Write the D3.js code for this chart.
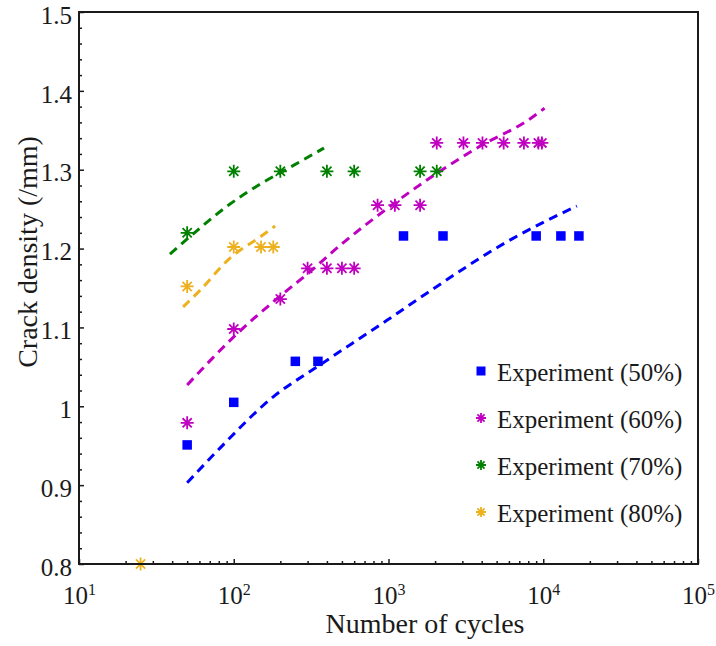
<!DOCTYPE html>
<html>
<head>
<meta charset="utf-8">
<script src="https://cdn.jsdelivr.net/npm/d3@7"></script>
<style>
  html, body { margin: 0; padding: 0; background: #fff; }
  svg text { font-family: "Liberation Serif", "Times New Roman", serif; fill: #1a1a1a; }
</style>
</head>
<body>
<svg id="chart" width="716" height="646"></svg>
<script>
// Experimental crack density vs. number of cycles at four stress levels
const cycles50 = [50, 100, 250, 350, 1250, 2250, 9000, 13000, 17000];
const density50 = [0.951, 1.005, 1.057, 1.057, 1.216, 1.216, 1.216, 1.216, 1.216];

const cycles60 = [50, 100, 200, 300, 400, 500, 600, 850, 1100, 1600, 2050, 3050, 4050, 5550, 7500, 9300, 9800];
const density60 = [0.979, 1.098, 1.136, 1.175, 1.175, 1.175, 1.175, 1.255, 1.255, 1.255, 1.334, 1.334, 1.334, 1.334, 1.334, 1.334, 1.334];

const cycles70 = [50, 100, 200, 400, 600, 1600, 2050];
const density70 = [1.220, 1.298, 1.298, 1.298, 1.298, 1.298, 1.298];

const cycles80 = [25, 50, 100, 150, 180];
const density80 = [0.800, 1.152, 1.202, 1.202, 1.202];

// Predicted (model) curves
const modelCycles50 = [50, 81.5, 180, 345, 977, 1528, 6380, 16500];
const modelDensity50 = [0.903, 0.947, 1.012, 1.050, 1.109, 1.135, 1.213, 1.254];

const modelCycles60 = [50, 100, 200, 300, 500, 1000, 2000, 4000, 8000, 10200];
const modelDensity60 = [1.027, 1.088, 1.140, 1.168, 1.206, 1.252, 1.294, 1.331, 1.363, 1.378];

const modelCycles70 = [38.7, 60.5, 94.6, 152, 231, 383];
const modelDensity70 = [1.193, 1.226, 1.2565, 1.283, 1.303, 1.3275];

const modelCycles80 = [47, 60.5, 94.6, 148, 185];
const modelDensity80 = [1.126, 1.147, 1.188, 1.2147, 1.2286];

const seriesNames = ["Experiment (50%)", "Experiment (60%)", "Experiment (70%)", "Experiment (80%)"];
const seriesColors = ["#0000ff", "#c000c0", "#008000", "#edb120"];
const seriesMarkers = ["square", "star", "star", "star"];

const xTickValues = [1e1, 1e2, 1e3, 1e4, 1e5];
const xTickExponents = ["1", "2", "3", "4", "5"];
const yTickValues = [0.8, 0.9, 1.0, 1.1, 1.2, 1.3, 1.4, 1.5];
const yTickLabels = ["0.8", "0.9", "1", "1.1", "1.2", "1.3", "1.4", "1.5"];

const svg = d3.select("#chart");
const plot = { left: 79, right: 698, top: 12, bottom: 564 };

const x = d3.scaleLog().domain([10, 1e5]).range([plot.left, plot.right]);
const y = d3.scaleLinear().domain([0.8, 1.5]).range([plot.bottom, plot.top]);

const expSeries = [
  { cycles: cycles50, density: density50 },
  { cycles: cycles60, density: density60 },
  { cycles: cycles70, density: density70 },
  { cycles: cycles80, density: density80 }
];
const modelSeries = [
  { cycles: modelCycles50, density: modelDensity50 },
  { cycles: modelCycles60, density: modelDensity60 },
  { cycles: modelCycles70, density: modelDensity70 },
  { cycles: modelCycles80, density: modelDensity80 }
];

// Model curves (dashed)
const line = d3.line()
  .x(d => x(d[0]))
  .y(d => y(d[1]))
  .curve(d3.curveMonotoneX);

modelSeries.forEach((s, i) => {
  const pts = s.cycles.map((c, j) => [c, s.density[j]]);
  svg.append("path")
    .attr("d", line(pts))
    .attr("fill", "none")
    .attr("stroke", seriesColors[i])
    .attr("stroke-width", 3)
    .attr("stroke-dasharray", "9,6");
});

// Marker drawing helpers
function starPath(r) {
  const p = d3.path();
  for (let k = 0; k < 4; k++) {
    const a = k * Math.PI / 4;
    p.moveTo(-r * Math.cos(a), -r * Math.sin(a));
    p.lineTo(r * Math.cos(a), r * Math.sin(a));
  }
  return p.toString();
}

function drawMarker(g, type, color, cx, cy, size) {
  if (type === "square") {
    g.append("rect")
      .attr("x", cx - size / 2).attr("y", cy - size / 2)
      .attr("width", size).attr("height", size)
      .attr("fill", color);
  } else {
    g.append("path")
      .attr("d", starPath(size / 2))
      .attr("transform", `translate(${cx},${cy})`)
      .attr("fill", "none")
      .attr("stroke", color)
      .attr("stroke-width", 1.8);
    g.append("circle")
      .attr("cx", cx).attr("cy", cy).attr("r", 1.8)
      .attr("fill", color);
  }
}

// Experimental points
const markerLayer = svg.append("g");
expSeries.forEach((s, i) => {
  s.cycles.forEach((c, j) => {
    drawMarker(markerLayer, seriesMarkers[i], seriesColors[i], x(c), y(s.density[j]),
      seriesMarkers[i] === "square" ? 9.5 : 13);
  });
});

// Frame
svg.append("rect")
  .attr("x", plot.left).attr("y", plot.top)
  .attr("width", plot.right - plot.left).attr("height", plot.bottom - plot.top)
  .attr("fill", "none")
  .attr("stroke", "#1a1a1a")
  .attr("stroke-width", 2);

// Y axis: major ticks with labels, minor ticks every 0.02 (inward)
const yAxis = d3.axisLeft(y)
  .tickValues(yTickValues)
  .tickFormat((d, i) => yTickLabels[i])
  .tickSizeInner(-5).tickSizeOuter(0).tickPadding(7);
const yAxisG = svg.append("g").attr("transform", `translate(${plot.left},0)`).call(yAxis);
yAxisG.select(".domain").remove();
yAxisG.selectAll("text")
  .attr("font-size", 25)
  .attr("font-family", "Liberation Serif")
  .attr("dy", "0.45em")
  .attr("fill", "#1a1a1a");
yAxisG.selectAll("line").attr("stroke", "#1a1a1a").attr("stroke-width", 1.5);

const yMinor = d3.range(0.82, 1.5, 0.02).filter(v => Math.abs(v * 10 - Math.round(v * 10)) > 1e-6);
const yMinorG = svg.append("g").attr("transform", `translate(${plot.left},0)`)
  .call(d3.axisLeft(y).tickValues(yMinor).tickFormat("").tickSizeInner(-3).tickSizeOuter(0));
yMinorG.select(".domain").remove();
yMinorG.selectAll("line").attr("stroke", "#1a1a1a").attr("stroke-width", 1.5);

// X axis: decade ticks with 10^n labels, minor ticks 2..9 (inward)
const xAxis = d3.axisBottom(x)
  .tickValues(xTickValues)
  .tickFormat("")
  .tickSizeInner(-5).tickSizeOuter(0).tickPadding(22);
const xAxisG = svg.append("g").attr("transform", `translate(0,${plot.bottom})`).call(xAxis);
xAxisG.select(".domain").remove();
xAxisG.selectAll("line").attr("stroke", "#1a1a1a").attr("stroke-width", 1.5);
xAxisG.selectAll("text").each(function (d, i) {
  const t = d3.select(this)
    .attr("font-size", 25)
    .attr("font-family", "Liberation Serif")
    .attr("fill", "#1a1a1a");
  t.append("tspan").text("10");
  t.append("tspan").text(xTickExponents[i])
    .attr("font-size", 16)
    .attr("dy", "-0.55em");
});

const xMinor = [];
for (let e = 1; e < 5; e++) for (let m = 2; m <= 9; m++) xMinor.push(m * Math.pow(10, e));
const xMinorG = svg.append("g").attr("transform", `translate(0,${plot.bottom})`)
  .call(d3.axisBottom(x).tickValues(xMinor).tickFormat("").tickSizeInner(-3).tickSizeOuter(0));
xMinorG.select(".domain").remove();
xMinorG.selectAll("line").attr("stroke", "#1a1a1a").attr("stroke-width", 1.5);

// Axis titles
svg.append("text")
  .attr("x", 425).attr("y", 633)
  .attr("text-anchor", "middle")
  .attr("font-size", 28)
  .text("Number of cycles");

svg.append("text")
  .attr("transform", "translate(37,252) rotate(-90)")
  .attr("text-anchor", "middle")
  .attr("font-size", 28)
  .text("Crack density (/mm)");

// Legend
const legend = svg.append("g");
const legendY = [371, 418, 465, 512];
seriesNames.forEach((name, i) => {
  drawMarker(legend, seriesMarkers[i], seriesColors[i], 481, legendY[i],
    seriesMarkers[i] === "square" ? 9 : 10);
  legend.append("text")
    .attr("x", 497).attr("y", legendY[i] + 10)
    .attr("font-size", 25)
    .text(name);
});
</script>
</body>
</html>
